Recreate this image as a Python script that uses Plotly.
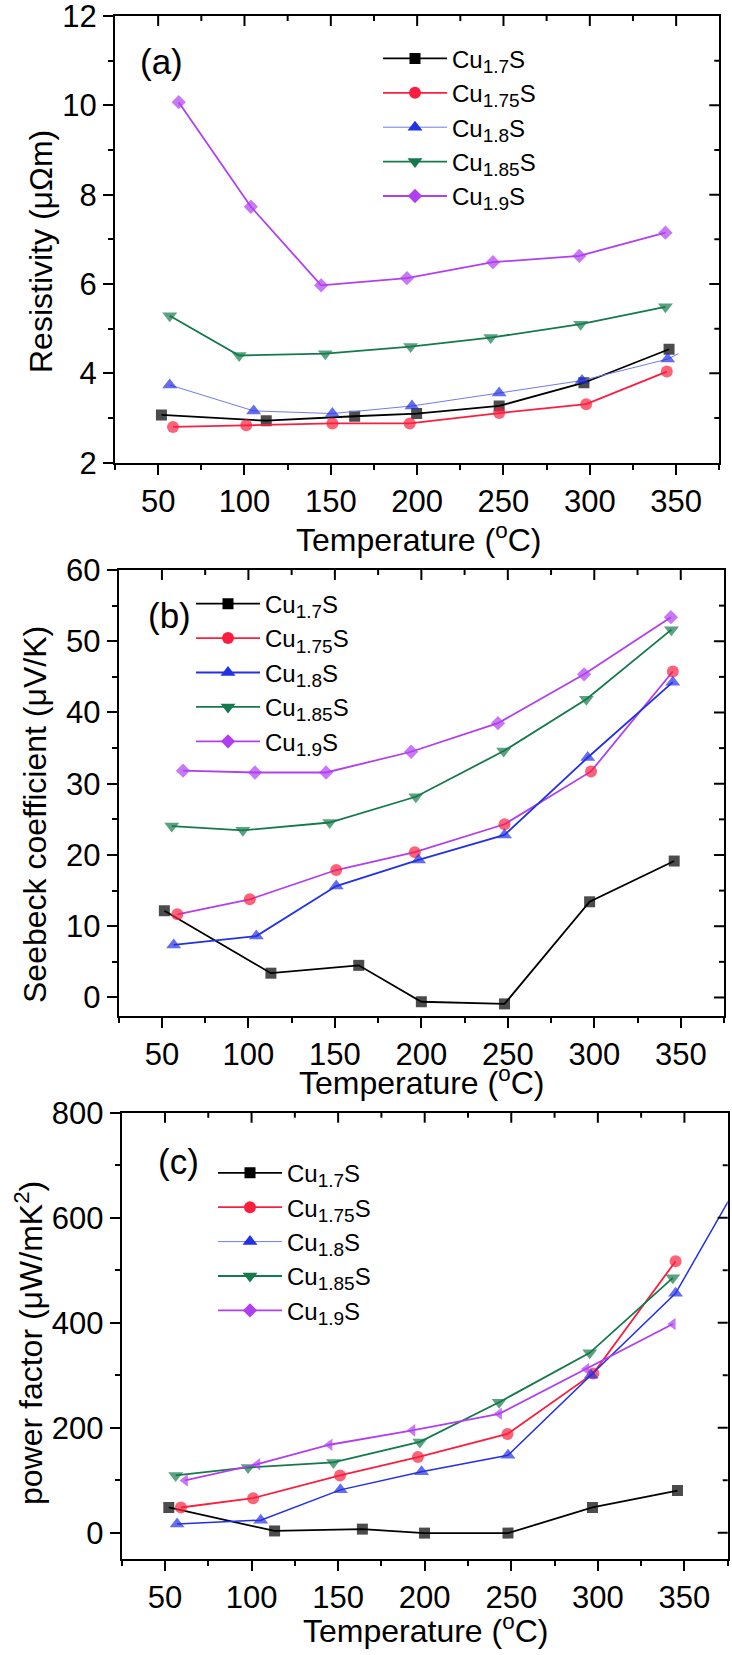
import plotly.graph_objects as go

W, H = 732, 1655
FONT = "Liberation Sans, Arial, sans-serif"


def cu(sub):
    return f'Cu<sub><span style="font-size:19px">{sub}</span></sub>S'


names = [cu("1.7"), cu("1.75"), cu("1.8"), cu("1.85"), cu("1.9")]

# ---------------- (a) Resistivity (μΩm) ----------------
a_t_17 = [51.9, 112.6, 163.8, 199.7, 247.5, 296.6, 345.9]
a_v_17 = [3.07, 2.94, 3.04, 3.10, 3.27, 3.79, 4.54]
a_t_175 = [58.6, 101.0, 150.9, 195.7, 247.5, 297.9, 344.6]
a_v_175 = [2.80, 2.84, 2.88, 2.88, 3.11, 3.31, 4.04]
a_t_18 = [56.7, 105.3, 150.9, 197.0, 247.5, 295.5, 345.1, 351.3]
a_v_18 = [3.74, 3.16, 3.10, 3.27, 3.56, 3.84, 4.32, 4.44]
a_t_185 = [56.7, 96.9, 146.8, 196.2, 242.6, 294.7, 343.8]
a_v_185 = [5.29, 4.40, 4.44, 4.60, 4.80, 5.10, 5.49]
a_t_19 = [61.9, 103.7, 144.4, 194.1, 243.9, 293.9, 343.8]
a_v_19 = [10.07, 7.73, 5.97, 6.13, 6.49, 6.63, 7.15]

# ---------------- (b) Seebeck coefficient (μV/K) ----------------
b_t_17 = [51.4, 113.0, 163.8, 200.0, 248.1, 297.3, 346.2]
b_v_17 = [12.18, 3.41, 4.51, -0.60, -0.90, 13.43, 19.15]
b_t_175 = [58.9, 100.8, 150.8, 196.2, 248.1, 298.1, 345.4]
b_v_175 = [11.68, 13.78, 17.89, 20.40, 24.31, 31.73, 45.76]
b_t_18 = [56.8, 104.6, 150.8, 198.4, 248.1, 296.2, 345.4]
b_v_18 = [7.37, 8.62, 15.64, 19.30, 22.81, 33.68, 44.26]
b_t_185 = [55.7, 96.8, 147.0, 196.8, 247.6, 295.4, 344.6]
b_v_185 = [24.06, 23.46, 24.56, 28.17, 34.59, 41.85, 51.63]
b_t_19 = [62.2, 103.8, 144.9, 194.1, 244.3, 294.1, 344.3]
b_v_19 = [31.83, 31.58, 31.58, 34.49, 38.50, 45.36, 53.38]

# ---------------- (c) power factor (μW/mK²) ----------------
c_t_17 = [52.2, 113.3, 164.0, 199.9, 248.1, 296.9, 346.0]
c_v_17 = [48.1, 3.4, 6.9, -0.7, -0.7, 48.1, 80.3]
c_t_175 = [59.2, 100.9, 151.1, 196.1, 247.8, 297.4, 344.9]
c_v_175 = [48.1, 65.9, 109.2, 144.2, 188.2, 303.5, 517.1]
c_t_18 = [57.0, 105.3, 151.3, 198.2, 248.1, 296.1, 344.9, 380.0]
c_v_18 = [16.5, 24.0, 81.7, 116.1, 147.6, 300.1, 456.0, 658.0]
c_t_185 = [56.2, 98.0, 147.3, 197.2, 243.0, 295.3, 343.3]
c_v_185 = [109.2, 124.3, 133.9, 173.0, 248.6, 342.7, 485.5]
c_t_19 = [61.6, 103.4, 145.1, 192.9, 243.0, 293.4, 343.3]
c_v_19 = [99.6, 130.5, 167.6, 195.0, 226.6, 311.8, 397.6]

# tick values
x_ticks = [50, 100, 150, 200, 250, 300, 350]
x_minor = [75, 125, 175, 225, 275, 325]
a_yticks = [4, 6, 8, 10]
a_yminor = [3, 5, 7, 9, 11]
b_yticks = [0, 10, 20, 30, 40, 50]
b_yminor = [5, 15, 25, 35, 45, 55]
c_yticks = [0, 200, 400, 600]
c_yminor = [100, 300, 500, 700]

BLACK = "#000000"
RED = "#fb1f3f"
BLUE = "#2230e6"
BLUE_LIGHT = "#6f7ce8"
GREEN = "#147a4c"
PURPLE = "#b13ff2"

colors = [BLACK, RED, BLUE, GREEN, PURPLE]
symbols = ["square", "circle", "triangle-up", "triangle-down", "diamond"]
msizes = [11, 12, 13, 13, 11]


def fx(px):
    return px / W


def fy(py):
    return 1 - py / H


panels = [
    dict(x0=115, x1=719.3, y0=16, y1=462.7, yr=[2, 12], dt=2, mdt=1,
         yt=a_yticks, ym=a_yminor,
         data=[(a_t_17, a_v_17), (a_t_175, a_v_175), (a_t_18, a_v_18),
               (a_t_185, a_v_185), (a_t_19, a_v_19)],
         line_colors=[BLACK, RED, BLUE_LIGHT, GREEN, PURPLE],
         line_widths=[1.8, 1.8, 1.0, 1.8, 1.8],
         plot_symbols=symbols,
         leg_marker=(415, 58.3), label="(a)", label_pos=(161.5, 61.7),
         ytitle="Resistivity (μΩm)", ytitle_pos=(41, 252),
         xtitle_pos=(418, 537.5)),
    dict(x0=118.7, x1=724, y0=570, y1=1016, yr=[-2.6, 60], dt=10, mdt=5,
         yt=b_yticks, ym=b_yminor,
         data=[(b_t_17, b_v_17), (b_t_175, b_v_175), (b_t_18, b_v_18),
               (b_t_185, b_v_185), (b_t_19, b_v_19)],
         line_colors=[BLACK, PURPLE, BLUE, GREEN, PURPLE],
         line_widths=[1.8, 1.8, 1.8, 1.8, 1.8],
         plot_symbols=symbols,
         leg_marker=(228, 603.6), label="(b)", label_pos=(169.5, 615),
         ytitle="Seebeck coefficient (μV/K)", ytitle_pos=(35, 815),
         xtitle_pos=(421.7, 1081)),
    dict(x0=121.7, x1=727.7, y0=1112.7, y1=1559, yr=[-50, 800], dt=200, mdt=100,
         yt=c_yticks, ym=c_yminor,
         data=[(c_t_17, c_v_17), (c_t_175, c_v_175), (c_t_18, c_v_18),
               (c_t_185, c_v_185), (c_t_19, c_v_19)],
         line_colors=[BLACK, RED, BLUE, GREEN, PURPLE],
         line_widths=[1.8, 1.8, 1.5, 1.8, 1.8],
         plot_symbols=["square", "circle", "triangle-up", "triangle-down", "triangle-left"],
         leg_marker=(250, 1172.7), label="(c)", label_pos=(178.5, 1161),
         ytitle="power factor (μW/mK<sup>2</sup>)", ytitle_pos=(29, 1343),
         xtitle_pos=(425, 1629)),
]

ITEMW = 64
MAJ, MIN = 10, 5

fig = go.Figure()
layout = dict(
    width=W, height=H,
    autosize=False,
    margin=dict(l=0, r=0, t=0, b=0, pad=0, autoexpand=False),
    paper_bgcolor="white", plot_bgcolor="white",
    font=dict(family=FONT, color="black"),
    showlegend=True,
    annotations=[],
    shapes=[],
)

XR = [25, 375]
tickfont = dict(family=FONT, size=31, color="black")

for i, p in enumerate(panels):
    n = i + 1
    xa = "x" if n == 1 else f"x{n}"
    ya = "y" if n == 1 else f"y{n}"
    xkey = "xaxis" if n == 1 else f"xaxis{n}"
    ykey = "yaxis" if n == 1 else f"yaxis{n}"
    xdom = [fx(p["x0"]), fx(p["x1"])]
    ydom = [fy(p["y1"]), fy(p["y0"])]

    common = dict(showgrid=False, zeroline=False, showline=True, linewidth=2,
                  linecolor="black", tickcolor="black", tickwidth=2, ticklen=MAJ,
                  ticklabeloverflow="allow", mirror=True)

    layout[xkey] = dict(common, domain=xdom, anchor=ya, range=XR,
                        dtick=50, tick0=0, ticks="outside",
                        tickfont=tickfont,
                        minor=dict(dtick=25, tick0=0, ticks="outside", ticklen=MIN,
                                   tickwidth=2, tickcolor="black"))
    layout[ykey] = dict(common, domain=ydom, anchor=xa, range=p["yr"],
                        dtick=p["dt"], tick0=0, ticks="outside",
                        tickfont=tickfont,
                        minor=dict(dtick=p["mdt"], tick0=0, ticks="outside", ticklen=MIN,
                                   tickwidth=2, tickcolor="black"))

    # inward ticks on the top and right frame edges (positioned through the axes' scales)
    for vals, ln in ((x_ticks, MAJ), (x_minor, MIN)):
        for v in vals:
            layout["shapes"].append(dict(
                type="line", xref=xa, yref=f"{ya} domain", x0=v, x1=v,
                ysizemode="pixel", yanchor=1, y0=0, y1=-ln,
                line=dict(color="black", width=2), layer="above"))
    for vals, ln in ((p["yt"], MAJ), (p["ym"], MIN)):
        for v in vals:
            layout["shapes"].append(dict(
                type="line", xref=f"{xa} domain", yref=ya, y0=v, y1=v,
                xsizemode="pixel", xanchor=1, x0=0, x1=-ln,
                line=dict(color="black", width=2), layer="above"))

    legname = "legend" if n == 1 else f"legend{n}"
    mx, my = p["leg_marker"]
    layout[legname] = dict(x=fx(mx - (ITEMW + 10) / 2), y=fy(my - 22),
                           xanchor="left", yanchor="top",
                           bgcolor="rgba(0,0,0,0)", borderwidth=0,
                           font=dict(family=FONT, size=24, color="black"),
                           tracegroupgap=0.2, itemwidth=ITEMW,
                           traceorder="grouped")

    # data traces
    for k, (tx, vy) in enumerate(p["data"]):
        sizes = [msizes[k]] * len(tx)
        if len(tx) > 7:
            sizes[-1] = 0
        fig.add_trace(go.Scatter(
            x=tx, y=vy, mode="lines+markers", xaxis=xa, yaxis=ya,
            line=dict(color=p["line_colors"][k], width=p["line_widths"][k]),
            marker=dict(symbol=p["plot_symbols"][k], size=sizes, color=colors[k],
                        line=dict(width=0)),
            showlegend=False, hoverinfo="x+y", cliponaxis=True,
        ))
    # legend entries
    for k in range(5):
        lw = 1.0 if (k == 2 and n != 2) else 1.8
        lc = BLUE_LIGHT if k == 2 and n != 2 else colors[k]
        fig.add_trace(go.Scatter(
            x=[None], y=[None], mode="lines+markers", xaxis=xa, yaxis=ya,
            name=names[k], legend=legname, legendgroup=f"{n}-{k}",
            line=dict(color=lc, width=lw),
            marker=dict(symbol=symbols[k], size=msizes[k], color=colors[k],
                        line=dict(width=0)),
            showlegend=True,
        ))

    # annotations
    layout["annotations"].append(dict(
        text=p["label"], x=fx(p["label_pos"][0]), y=fy(p["label_pos"][1]),
        xref="paper", yref="paper", xanchor="center", yanchor="middle",
        showarrow=False, font=dict(family=FONT, size=35, color="black")))
    layout["annotations"].append(dict(
        text=p["ytitle"], x=fx(p["ytitle_pos"][0]), y=fy(p["ytitle_pos"][1]),
        xref="paper", yref="paper", xanchor="center", yanchor="middle",
        textangle=-90, showarrow=False,
        font=dict(family=FONT, size=32, color="black")))
    layout["annotations"].append(dict(
        text="Temperature (<sup>o</sup>C)", x=fx(p["xtitle_pos"][0]),
        y=fy(p["xtitle_pos"][1]),
        xref="paper", yref="paper", xanchor="center", yanchor="middle",
        showarrow=False, font=dict(family=FONT, size=32, color="black")))

fig.update_layout(**layout)
fig.write_html("out.html", config={"responsive": False, "displayModeBar": False},
               post_script="document.body.style.margin='0';")
